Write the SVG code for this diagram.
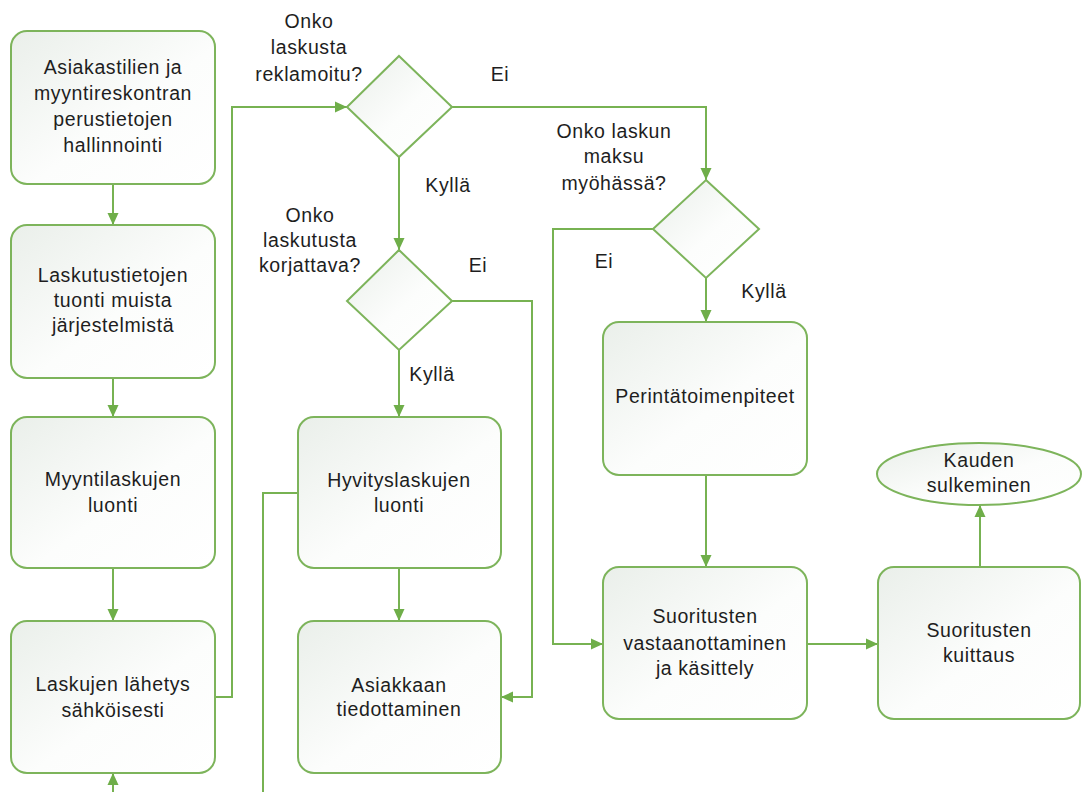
<svg xmlns="http://www.w3.org/2000/svg" width="1082" height="792" viewBox="0 0 1082 792">
<style>
.box{fill:url(#g);stroke:#7db45b;stroke-width:2}
.t{font-family:"Liberation Sans",Arial,sans-serif;font-size:19.5px;letter-spacing:0.6px;fill:#1e1e1e;text-anchor:middle}
.l{font-family:"Liberation Sans",Arial,sans-serif;font-size:19.5px;letter-spacing:0.6px;fill:#1e1e1e;text-anchor:middle}
.c{fill:none;stroke:#77b252;stroke-width:2}
.a{marker-end:url(#arr)}
</style>
<defs>
<linearGradient id="g" x1="0" y1="0" x2="1" y2="1">
<stop offset="0" stop-color="#eaefea"/>
<stop offset="0.55" stop-color="#fcfdfc"/>
<stop offset="1" stop-color="#ffffff"/>
</linearGradient>
<marker id="arr" markerUnits="userSpaceOnUse" markerWidth="13" markerHeight="12" refX="12" refY="6" orient="auto">
<path d="M0,0.5 L12,6 L0,11.5 z" fill="#6fae49"/>
</marker>
</defs>
<rect width="1082" height="792" fill="#ffffff"/>

<g id="connectors">
<path class="c a" d="M113,184 V225"/>
<path class="c a" d="M113,378 V417"/>
<path class="c a" d="M113,568 V621"/>
<path class="c a" d="M113,792 V773"/>
<path class="c a" d="M215,697 H232 V107 H347"/>
<path class="c a" d="M452,107 H706 V180"/>
<path class="c a" d="M399,157 V250"/>
<path class="c a" d="M452,301 H532 V697 H501"/>
<path class="c a" d="M399,350 V417"/>
<path class="c a" d="M399,568 V621"/>
<path class="c" d="M298,493 H263 V792"/>
<path class="c a" d="M653,229 H553 V644 H603"/>
<path class="c a" d="M706,278 V322"/>
<path class="c a" d="M706,475 V567"/>
<path class="c a" d="M807,644 H878"/>
<path class="c a" d="M980,567 V505"/>
<text class="l" x="309" y="28">Onko</text>
<text class="l" x="309" y="54">laskusta</text>
<text class="l" x="309" y="81">reklamoitu?</text>
<text class="l" x="500" y="81">Ei</text>
<text class="l" x="448" y="192">Kyllä</text>
<text class="l" x="310" y="222">Onko</text>
<text class="l" x="310" y="247">laskutusta</text>
<text class="l" x="310" y="272">korjattava?</text>
<text class="l" x="478" y="272">Ei</text>
<text class="l" x="432" y="381">Kyllä</text>
<text class="l" x="614" y="138">Onko laskun</text>
<text class="l" x="614" y="163">maksu</text>
<text class="l" x="614" y="190">myöhässä?</text>
<text class="l" x="604" y="268">Ei</text>
<text class="l" x="764" y="298">Kyllä</text>
</g>

<g id="n1">
<rect class="box" x="11" y="31" width="204" height="153" rx="16"/>
<text class="t" x="113" y="74">Asiakastilien ja</text>
<text class="t" x="113" y="100">myyntireskontran</text>
<text class="t" x="113" y="126">perustietojen</text>
<text class="t" x="113" y="152">hallinnointi</text>
</g>
<g id="n2">
<rect class="box" x="11" y="225" width="204" height="153" rx="16"/>
<text class="t" x="113" y="282">Laskutustietojen</text>
<text class="t" x="113" y="307">tuonti muista</text>
<text class="t" x="113" y="332">järjestelmistä</text>
</g>
<g id="n3">
<rect class="box" x="11" y="417" width="204" height="151" rx="16"/>
<text class="t" x="113" y="486">Myyntilaskujen</text>
<text class="t" x="113" y="512">luonti</text>
</g>
<g id="n4">
<rect class="box" x="11" y="621" width="204" height="152" rx="16"/>
<text class="t" x="113" y="691">Laskujen lähetys</text>
<text class="t" x="113" y="717">sähköisesti</text>
</g>
<g id="d1">
<polygon class="box" points="399,56 452,107 399,157 347,107"/>
</g>
<g id="d2">
<polygon class="box" points="399,250 452,301 399,350 347,301"/>
</g>
<g id="n5">
<rect class="box" x="298" y="417" width="203" height="151" rx="16"/>
<text class="t" x="399" y="487">Hyvityslaskujen</text>
<text class="t" x="399" y="512">luonti</text>
</g>
<g id="n6">
<rect class="box" x="298" y="621" width="203" height="152" rx="16"/>
<text class="t" x="399" y="692">Asiakkaan</text>
<text class="t" x="399" y="716">tiedottaminen</text>
</g>
<g id="d3">
<polygon class="box" points="706,180 759,229 706,278 653,229"/>
</g>
<g id="n7">
<rect class="box" x="603" y="322" width="204" height="153" rx="16"/>
<text class="t" x="705" y="403">Perintätoimenpiteet</text>
</g>
<g id="n8">
<rect class="box" x="603" y="567" width="204" height="152" rx="16"/>
<text class="t" x="705" y="623">Suoritusten</text>
<text class="t" x="705" y="650">vastaanottaminen</text>
<text class="t" x="705" y="675">ja käsittely</text>
</g>
<g id="n9">
<rect class="box" x="878" y="567" width="202" height="152" rx="16"/>
<text class="t" x="979" y="637">Suoritusten</text>
<text class="t" x="979" y="662">kuittaus</text>
</g>
<g id="n10">
<ellipse class="box" cx="979" cy="474" rx="102" ry="31"/>
<text class="t" x="979" y="467">Kauden</text>
<text class="t" x="979" y="492">sulkeminen</text>
</g>
</svg>
